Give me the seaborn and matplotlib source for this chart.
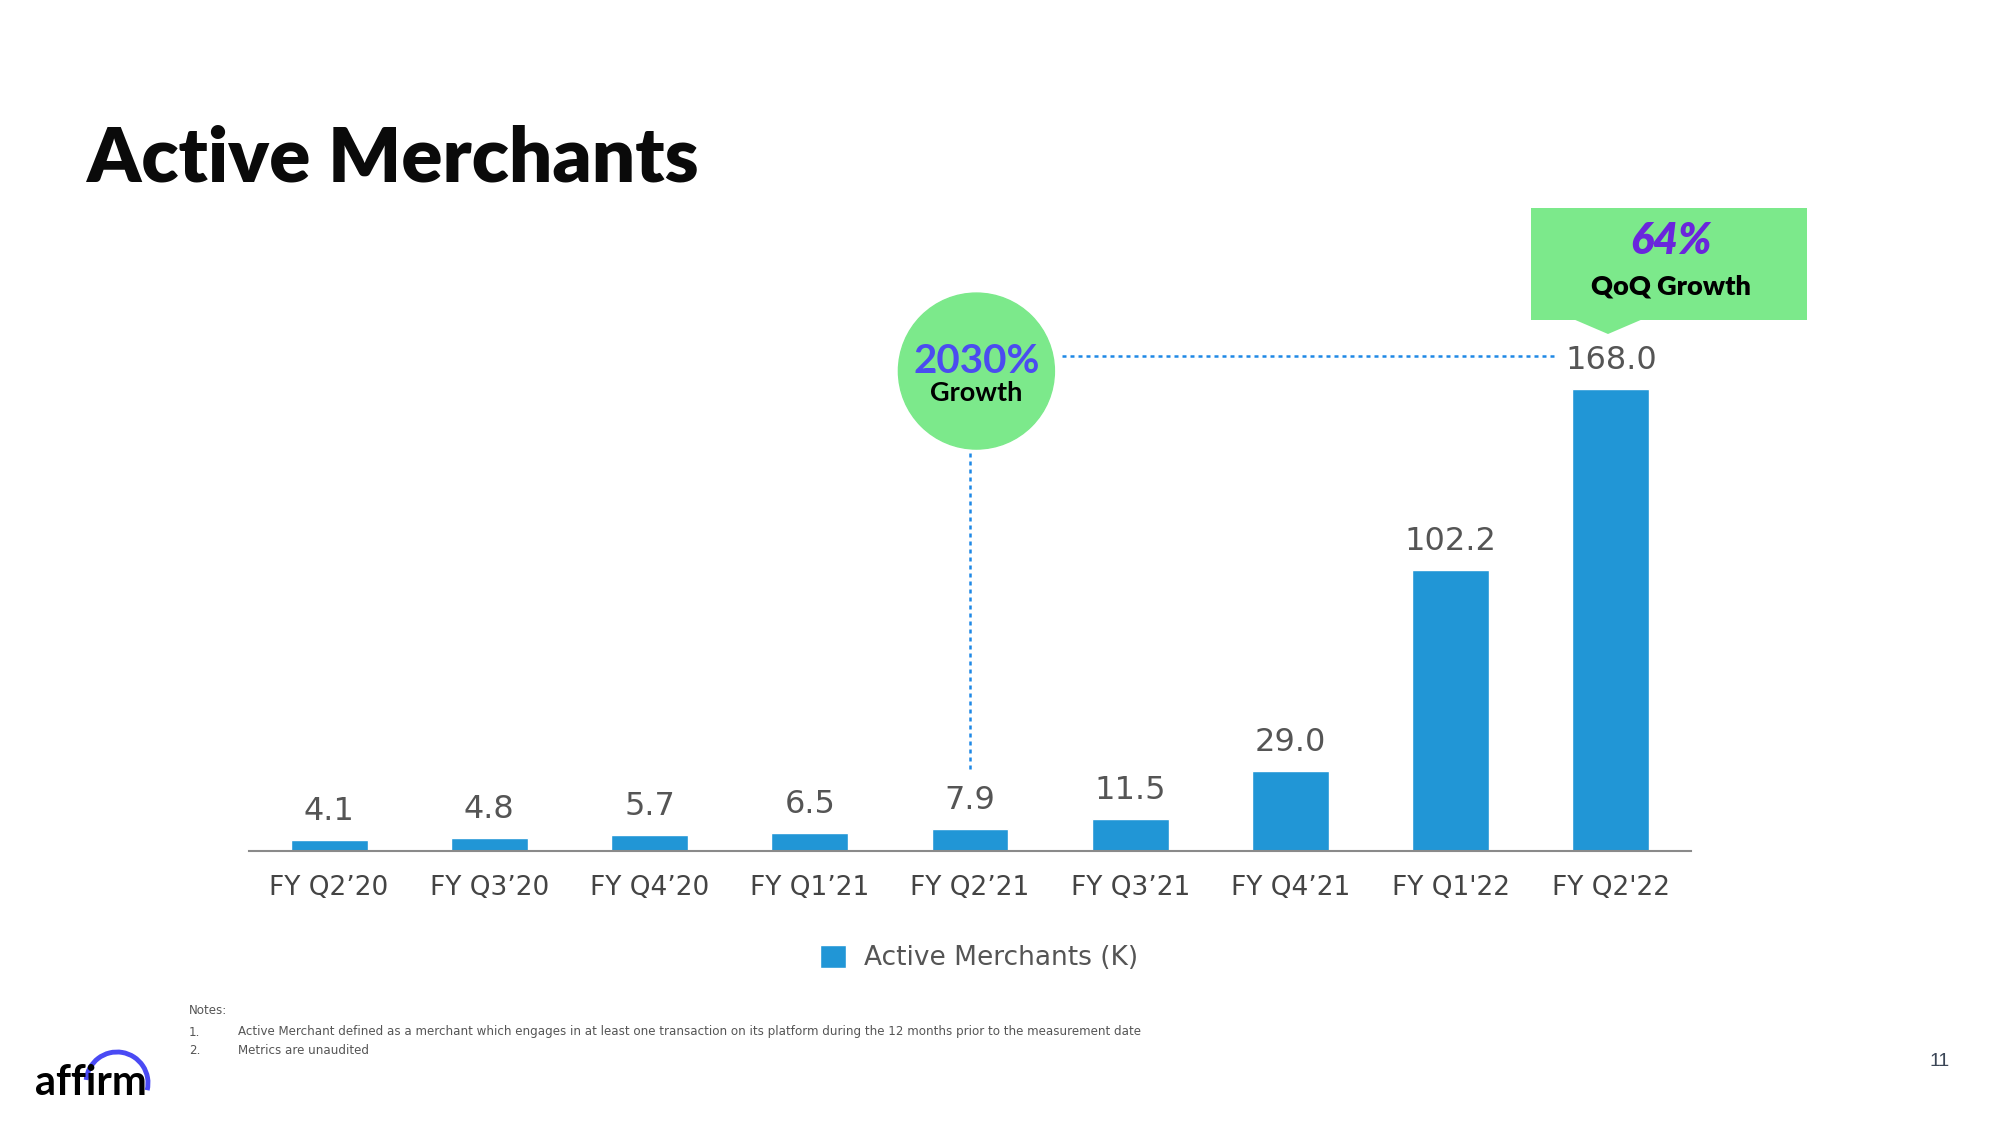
import matplotlib
matplotlib.use("Agg")
import matplotlib.pyplot as plt
from matplotlib.patches import Ellipse, Rectangle, Polygon, Arc, Patch
import seaborn as sns
import pandas as pd

# data
quarters = ["FY Q2’20", "FY Q3’20", "FY Q4’20", "FY Q1’21", "FY Q2’21",
            "FY Q3’21", "FY Q4’21", "FY Q1'22", "FY Q2'22"]
merchants = [4.1, 4.8, 5.7, 6.5, 7.9, 11.5, 29.0, 102.2, 168.0]
series_name = "Active Merchants (K)"
growth_total = "2030%"
growth_qoq = "64%"
notes = ["Active Merchant defined as a merchant which engages in at least one transaction on its platform during the 12 months prior to the measurement date",
         "Metrics are unaudited"]

BAR = "#2196d6"
GREEN = "#7ce98b"
DOT = "#1e88e5"

df = pd.DataFrame({"quarter": quarters, "merchants": merchants})

sns.set_theme(style="white")
plt.rcParams["font.family"] = ["DejaVu Sans"]

W, H = 2000, 1125
fig = plt.figure(figsize=(20, 11.25), dpi=100)
fig.patch.set_facecolor("white")


def fx(px):
    return px / W


def fy(py):
    return 1 - py / H


ax = fig.add_axes([0.1245, 0.2436, 0.721, 0.4889])
sns.barplot(data=df, x="quarter", y="merchants", color=BAR, saturation=1,
            width=0.48, ax=ax)
ax.set_xlim(-0.5, len(quarters) - 0.5)
ax.set_ylim(0, 200)
for s in ["top", "right", "left"]:
    ax.spines[s].set_visible(False)
ax.spines["bottom"].set_color("#8a8a8a")
ax.spines["bottom"].set_linewidth(1.5)
ax.set_yticks([])
ax.set_xlabel("")
ax.set_ylabel("")
ax.tick_params(axis="x", length=0, pad=17, labelsize=19, labelcolor="#444444")
ax.set_facecolor("white")

# value labels
for i, v in enumerate(merchants):
    ax.annotate(f"{v:.1f}", (i, v), xytext=(0, 20.5), textcoords="offset points",
                ha="center", va="center", fontsize=23, color="#555555")

# growth bubble over FY Q2'21, dotted connectors to last bar label
px_per_unit = 0.4889 * H / 200
px_per_cat = 0.721 * W / len(quarters)
i0 = quarters.index("FY Q2’21")
i1 = len(quarters) - 1
bub_y = 174.5
bub_r = 78
ax.add_patch(Ellipse((i0 + 0.04, bub_y), 2 * bub_r / px_per_cat, 2 * bub_r / px_per_unit,
                     color=GREEN, clip_on=False, zorder=3))
ax.text(i0 + 0.04, bub_y + 3.6, growth_total, ha="center", va="center", fontsize=29,
        fontfamily="Lato", fontweight="bold", color="#4b4cf0", zorder=4)
ax.text(i0 + 0.04, bub_y - 8.0, "Growth", ha="center", va="center", fontsize=19.5,
        fontfamily="Lato", fontweight="bold", color="black", zorder=4)

line_y = merchants[i1] + 31 / px_per_unit + 0.8
ax.plot([i0 + 0.04 + bub_r / px_per_cat + 0.05, i1 - 0.355], [line_y, line_y],
        color=DOT, lw=1.8, ls=(0, (1.6, 1.6)), clip_on=False)
ax.plot([i0, i0], [merchants[i0] + 22, bub_y - bub_r / px_per_unit],
        color=DOT, lw=1.8, ls=(0, (1.6, 1.6)), clip_on=False)

# QoQ callout box
fig.add_artist(Rectangle((fx(1531), fy(320)), fx(276), 112 / H,
                         transform=fig.transFigure, color=GREEN, lw=0))
fig.add_artist(Polygon([(fx(1573), fy(319)), (fx(1643), fy(319)), (fx(1608), fy(334))],
                       closed=True, transform=fig.transFigure, color=GREEN, lw=0))
fig.text(fx(1671), fy(241), growth_qoq, ha="center", va="center", fontsize=31,
         fontfamily="Lato", fontweight="heavy", fontstyle="italic", color="#6a26dc")
fig.text(fx(1671), fy(286), "QoQ Growth", ha="center", va="center", fontsize=19.5,
         fontfamily="Lato", fontweight="heavy", color="black")

# legend
fig.legend(handles=[Patch(facecolor=BAR, label=series_name)], loc="center",
           bbox_to_anchor=(fx(979), fy(958)), frameon=False, fontsize=19,
           handlelength=1.0, handleheight=1.0, handletextpad=0.7,
           labelcolor="#555555")

# title
fig.text(fx(87), fy(182), "Active Merchants", ha="left", va="baseline",
         fontsize=55, fontfamily="Lato", fontweight="heavy", color="#0a0a0a")

# notes
fig.text(fx(189), fy(1011), "Notes:", va="center", fontsize=8.6, color="#555555")
for k, (yy, txt) in enumerate(zip([1032, 1051], notes)):
    fig.text(fx(189), fy(yy), f"{k + 1}.", va="center", fontsize=8.6, color="#555555")
    fig.text(fx(238), fy(yy), txt, va="center", fontsize=8.6, color="#555555")

# logo + page number
fig.text(fx(35), fy(1095), "affirm", ha="left", va="baseline", fontsize=30,
         fontfamily="Lato", fontweight="bold", color="black")
fig.add_artist(Arc((fx(117), fy(1083)), 62 / W, 62 / H, theta1=-23, theta2=170,
                   transform=fig.transFigure, color="#4a4af4", lw=3.5))
fig.text(fx(1940), fy(1061), "11", ha="center", va="center", fontsize=14,
         fontfamily="Liberation Sans", color="#3b4656")

fig.savefig("out.png", dpi=100)
